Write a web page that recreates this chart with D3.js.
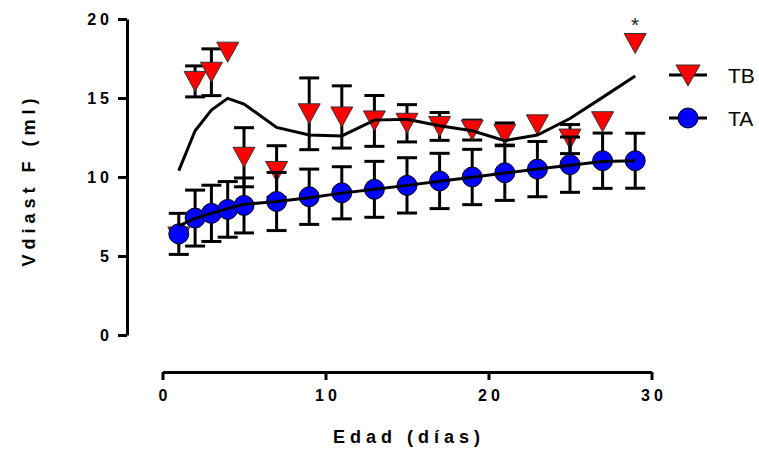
<!DOCTYPE html>
<html>
<head>
<meta charset="utf-8">
<script src="https://cdn.jsdelivr.net/npm/d3@7"></script>
<style>
  body { margin: 0; background: #fff; }
  svg { font-family: 'Liberation Sans', Arial, sans-serif; }
  .axis path, .axis line { stroke: #000; stroke-width: 3; }
  .axis text { font-size: 16px; font-weight: bold; letter-spacing: 4px; fill: #000; }
</style>
</head>
<body>
<div id="chart"></div>
<script>
// days
const days = [1, 2, 3, 4, 5, 7, 9, 11, 13, 15, 17, 19, 21, 23, 25, 27, 29];

// TB group (red triangles), mean and SD (0 = bar hidden behind symbol)
const tbMean = [6.2, 16.05, 16.63, 17.9, 11.25, 10.35, 14.0, 13.8, 13.55, 13.4, 13.2, 12.97, 12.7, 13.3, 12.4, 13.5, 18.45];
const tbSd = [0, 0.98, 1.48, 0, 1.87, 1.63, 2.27, 1.97, 1.61, 1.18, 0.88, 0.63, 0.72, 0, 0.92, 0, 0];
const tbFit = [10.4, 12.93, 14.24, 14.98, 14.62, 13.14, 12.66, 12.6, 13.6, 13.65, 13.25, 12.93, 12.3, 12.66, 13.7, 15.04, 16.4];

// TA group (blue circles)
const taMean = [6.4, 7.4, 7.7, 7.95, 8.2, 8.45, 8.75, 9.0, 9.22, 9.47, 9.75, 10.0, 10.27, 10.5, 10.78, 11.03, 11.03];
const taSd = [1.3, 1.77, 1.78, 1.76, 1.74, 1.84, 1.75, 1.65, 1.77, 1.75, 1.75, 1.75, 1.75, 1.75, 1.75, 1.75, 1.74];
const taFit = [6.9, 7.38, 7.7, 8.0, 8.27, 8.45, 8.68, 8.98, 9.22, 9.47, 9.73, 9.98, 10.25, 10.5, 10.75, 10.98, 11.03];

const xTicks = [0, 10, 20, 30];
const yTicks = [0, 5, 10, 15, 20];
const legendNames = ['TB', 'TA'];

const width = 759,
      height = 453;

const x = d3.scaleLinear().domain([0, 30]).range([162.5, 651.5]);
const y = d3.scaleLinear().domain([0, 20]).range([335, 19]);

const svg = d3.select('#chart').append('svg').attr('width', width).attr('height', height);

// axes, offset like Prism
svg.append('g').attr('class', 'axis y')
    .attr('transform', 'translate(127,0)')
    .call(d3.axisLeft(y).tickValues(yTicks).tickSize(9).tickSizeOuter(0).tickPadding(5));

svg.append('g').attr('class', 'axis x')
    .attr('transform', 'translate(0,372)')
    .call(d3.axisBottom(x).tickValues(xTicks).tickSize(8).tickSizeOuter(0).tickPadding(10));

svg.selectAll('.axis.x .tick text').attr('dx', '2px');

svg.append('text')
    .attr('x', 409).attr('y', 443)
    .attr('text-anchor', 'middle')
    .style('font-size', '18px').style('font-weight', 'bold').style('letter-spacing', '5px')
    .text('Edad (días)');

svg.append('text')
    .attr('transform', 'translate(35,180) rotate(-90)')
    .attr('text-anchor', 'middle')
    .style('font-size', '18px').style('font-weight', 'bold').style('letter-spacing', '5px')
    .text('Vdiast F (ml)');

const tri = 'M-11,-10L11,-10L0,10Z';

function errorBars(g, mean, sd) {
  const pts = days.map((d, i) => ({day: d, hi: mean[i] + sd[i], lo: mean[i] - sd[i], sd: sd[i]}))
      .filter((p) => p.sd > 0);
  const eb = g.append('g').selectAll('g').data(pts).join('g')
      .attr('transform', (p) => 'translate(' + x(p.day) + ',0)')
      .attr('stroke', '#000').attr('stroke-width', 3);
  eb.append('line').attr('y1', (p) => y(p.hi)).attr('y2', (p) => y(p.lo));
  eb.append('line').attr('x1', -10).attr('x2', 10).attr('y1', (p) => y(p.hi)).attr('y2', (p) => y(p.hi));
  eb.append('line').attr('x1', -10).attr('x2', 10).attr('y1', (p) => y(p.lo)).attr('y2', (p) => y(p.lo));
}

const line = d3.line()
    .x((d, i) => x(days[i]))
    .y((d) => y(d));

// TB first, TA drawn on top
const tbG = svg.append('g');
errorBars(tbG, tbMean, tbSd);
tbG.append('g').selectAll('path').data(tbMean).join('path')
    .attr('d', tri)
    .attr('transform', (d, i) => 'translate(' + x(days[i]) + ',' + y(d) + ')')
    .attr('fill', '#ff0000').attr('stroke', '#333').attr('stroke-width', 1);
tbG.append('path').attr('d', line(tbFit))
    .attr('fill', 'none').attr('stroke', '#000').attr('stroke-width', 3);

const taG = svg.append('g');
errorBars(taG, taMean, taSd);
taG.append('g').selectAll('circle').data(taMean).join('circle')
    .attr('cx', (d, i) => x(days[i])).attr('cy', (d) => y(d)).attr('r', 10)
    .attr('fill', '#0000ff').attr('stroke', '#000').attr('stroke-width', 1);
taG.append('path').attr('d', line(taFit))
    .attr('fill', 'none').attr('stroke', '#000').attr('stroke-width', 3);

// significance mark
svg.append('text')
    .attr('x', x(29)).attr('y', y(tbMean[tbMean.length - 1]) - 11)
    .attr('text-anchor', 'middle')
    .style('font-size', '21px').attr('fill', '#222')
    .text('*');

// legend
const legend = svg.append('g').selectAll('g').data(legendNames).join('g')
    .attr('transform', (d, i) => 'translate(688,' + (75 + i * 43) + ')');
legend.append('line').attr('x1', -19).attr('x2', 19)
    .attr('stroke', '#000').attr('stroke-width', 3);
legend.filter((d) => d === 'TB').append('path')
    .attr('d', 'M-12,-10L12,-10L0,11Z')
    .attr('fill', '#ff0000').attr('stroke', '#333').attr('stroke-width', 1);
legend.filter((d) => d === 'TA').append('circle')
    .attr('r', 10)
    .attr('fill', '#0000ff').attr('stroke', '#000').attr('stroke-width', 1);
legend.append('text')
    .attr('x', 40).attr('y', 8)
    .style('font-size', '21px')
    .text((d) => d);
</script>
</body>
</html>
